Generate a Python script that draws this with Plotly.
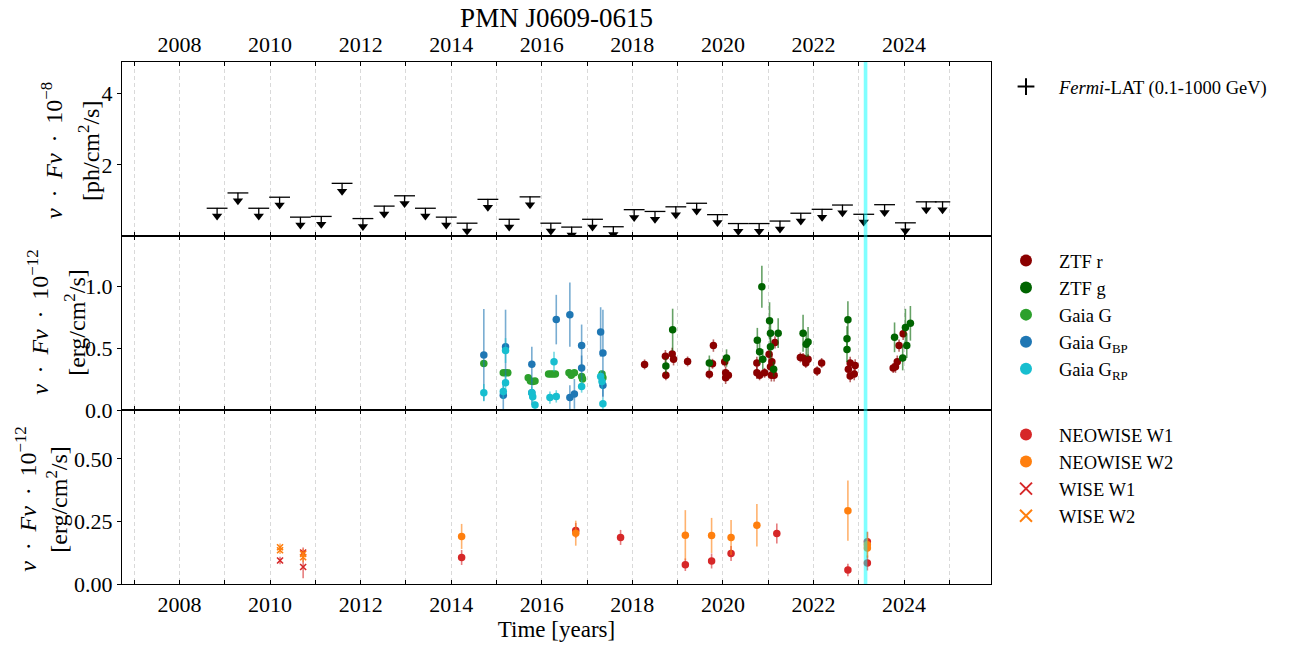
import plotly.graph_objects as go
from plotly.subplots import make_subplots

# Fermi-LAT upper limits (1e-8 ph/cm2/s)
fermi_t = [2008.83, 2009.29, 2009.75, 2010.21, 2010.67, 2011.13, 2011.59, 2012.05, 2012.52, 2012.97,
           2013.43, 2013.89, 2014.35, 2014.81, 2015.28, 2015.74, 2016.20, 2016.66, 2017.12, 2017.58,
           2018.04, 2018.50, 2018.96, 2019.42, 2019.88, 2020.34, 2020.80, 2021.26, 2021.72, 2022.19,
           2022.64, 2023.11, 2023.57, 2024.03, 2024.49, 2024.85]
fermi_ul = [0.78, 1.21, 0.78, 1.09, 0.53, 0.55, 1.48, 0.49, 0.84, 1.13,
            0.78, 0.53, 0.36, 1.03, 0.47, 1.10, 0.36, 0.25, 0.47, 0.26,
            0.74, 0.69, 0.82, 0.92, 0.60, 0.35, 0.35, 0.42, 0.64, 0.75,
            0.87, 0.61, 0.88, 0.37, 0.96, 0.96]
fermi_halfbin = [0.23] * 35 + [0.17]

# optical (1e-12 erg/cm2/s)
ztf_r_t = [2018.27, 2018.73, 2018.74, 2018.88, 2018.91, 2019.22, 2019.70, 2019.77, 2019.79, 2020.04,
           2020.06, 2020.06, 2020.12, 2020.75, 2020.75, 2020.81, 2020.92, 2021.02, 2021.05, 2021.08,
           2021.07, 2021.13, 2021.15, 2021.71, 2021.77, 2021.83, 2021.88, 2022.08, 2022.18, 2022.77,
           2022.81, 2022.81, 2022.90, 2022.92, 2023.76, 2023.81, 2023.85, 2023.89, 2023.98]
ztf_r = [0.368, 0.434, 0.28, 0.453, 0.41, 0.392, 0.288, 0.373, 0.52, 0.39,
         0.30, 0.26, 0.28, 0.38, 0.30, 0.28, 0.30, 0.45, 0.35, 0.39,
         0.28, 0.28, 0.546, 0.424, 0.42, 0.38, 0.41, 0.314, 0.38, 0.33,
         0.38, 0.274, 0.29, 0.36, 0.339, 0.35, 0.39, 0.52, 0.616]
ztf_r_err = [0.04, 0.05, 0.04, 0.05, 0.05, 0.04, 0.04, 0.04, 0.05, 0.04,
             0.05, 0.05, 0.04, 0.05, 0.05, 0.04, 0.04, 0.05, 0.05, 0.05,
             0.05, 0.05, 0.05, 0.04, 0.04, 0.04, 0.04, 0.04, 0.04, 0.04,
             0.05, 0.05, 0.05, 0.05, 0.04, 0.05, 0.05, 0.05, 0.05]

ztf_g_t = [2018.74, 2018.89, 2019.70, 2020.08, 2020.76, 2020.81, 2020.86, 2020.88, 2021.03, 2021.05,
           2021.05, 2021.12, 2021.22, 2021.77, 2021.84, 2021.88, 2022.74, 2022.74, 2022.76, 2023.79,
           2023.97, 2024.03, 2024.06, 2024.14]
ztf_g = [0.355, 0.648, 0.38, 0.42, 0.563, 0.47, 0.995, 0.41, 0.72, 0.62,
         0.51, 0.33, 0.62, 0.62, 0.53, 0.55, 0.576, 0.488, 0.728, 0.587,
         0.42, 0.667, 0.52, 0.70]
ztf_g_err = [0.06, 0.17, 0.06, 0.07, 0.10, 0.10, 0.17, 0.08, 0.15, 0.10,
             0.10, 0.06, 0.12, 0.15, 0.10, 0.12, 0.10, 0.10, 0.15, 0.12,
             0.10, 0.15, 0.10, 0.14]

gaia_g_t = [2014.72, 2015.15, 2015.20, 2015.25, 2015.70, 2015.75, 2015.80, 2015.85, 2016.15, 2016.20,
            2016.25, 2016.30, 2016.60, 2016.65, 2016.72, 2016.88, 2016.90, 2017.33, 2017.35]
gaia_g = [0.376, 0.30, 0.30, 0.30, 0.26, 0.235, 0.23, 0.235, 0.29, 0.29,
          0.29, 0.29, 0.30, 0.28, 0.30, 0.27, 0.25, 0.29, 0.26]
gaia_g_err = [0.02] * 19

gaia_bp_t = [2014.72, 2015.15, 2015.20, 2015.78, 2015.78, 2016.32, 2016.62, 2016.62, 2016.72, 2016.88,
             2016.88, 2017.30, 2017.35, 2017.35]
gaia_bp = [0.445, 0.12, 0.51, 0.37, 0.14, 0.73, 0.77, 0.10, 0.13, 0.52,
           0.34, 0.63, 0.46, 0.20]
gaia_bp_err = [0.37, 0.12, 0.30, 0.14, 0.10, 0.20, 0.26, 0.10, 0.12, 0.17,
               0.10, 0.20, 0.35, 0.10]

gaia_rp_t = [2014.72, 2015.15, 2015.20, 2015.20, 2015.78, 2015.80, 2015.85, 2016.18, 2016.27, 2016.32,
             2016.88, 2017.30, 2017.33, 2017.35]
gaia_rp = [0.14, 0.15, 0.48, 0.22, 0.14, 0.106, 0.04, 0.10, 0.39, 0.11,
           0.19, 0.27, 0.23, 0.05]
gaia_rp_err = [0.07, 0.06, 0.10, 0.06, 0.05, 0.05, 0.03, 0.05, 0.08, 0.05,
               0.05, 0.05, 0.06, 0.05]

# infrared (1e-12 erg/cm2/s)
neo_w1_t = [2014.23, 2016.75, 2017.74, 2019.17, 2019.75, 2020.18, 2021.19, 2022.76, 2023.19, 2023.19]
neo_w1 = [0.106, 0.214, 0.186, 0.077, 0.092, 0.122, 0.202, 0.056, 0.169, 0.084]
neo_w1_err = [0.03, 0.03, 0.03, 0.025, 0.03, 0.03, 0.04, 0.025, 0.04, 0.03]

neo_w2_t = [2014.23, 2016.75, 2019.17, 2019.75, 2020.18, 2020.75, 2022.76, 2023.19, 2023.19]
neo_w2 = [0.19, 0.203, 0.195, 0.194, 0.186, 0.235, 0.293, 0.157, 0.144]
neo_w2_err = [0.05, 0.05, 0.10, 0.07, 0.07, 0.085, 0.12, 0.05, 0.04]

wise_w1_t = [2010.22, 2010.73, 2010.73]
wise_w1 = [0.094, 0.126, 0.068]
wise_w1_err = [0.015, 0.02, 0.045]

wise_w2_t = [2010.22, 2010.22, 2010.73, 2010.73]
wise_w2 = [0.147, 0.135, 0.12, 0.107]
wise_w2_err = [0.015, 0.015, 0.02, 0.02]

flare_t = 2023.15

years = list(range(2007, 2026))
year_text = [str(y) if y % 2 == 0 else "" for y in years]

FONT = "Liberation Serif"
OFF = 8  # page body margin
W, H = 1296 - OFF, 654 - OFF

fig = make_subplots(rows=3, cols=1, shared_xaxes=True, vertical_spacing=0)


def err_series(t, v, e, color, name, row, legend, symbol="circle", alpha=0.6):
    r, g, b = color
    mk = dict(size=7.5, color=f"rgb({r},{g},{b})", symbol=symbol)
    if symbol.startswith("x"):
        mk = dict(size=6, symbol="x-thin", line=dict(width=1.6, color=f"rgb({r},{g},{b})"))
    fig.add_trace(go.Scatter(
        x=t, y=v, mode="markers", name=name, legend=legend, marker=mk,
        error_y=dict(type="data", array=e, color=f"rgba({r},{g},{b},{alpha})", thickness=1.6, width=0),
    ), row=row, col=1)


# Fermi: caps at the upper limit, arrow pointing down
arrow_drop = 0.22
fig.add_trace(go.Scatter(
    x=fermi_t, y=fermi_ul, mode="markers", showlegend=False,
    marker=dict(size=1, color="black"),
    error_x=dict(type="data", array=fermi_halfbin, color="black", thickness=1.3, width=0),
), row=1, col=1)
fig.add_trace(go.Scatter(
    x=fermi_t, y=[u - arrow_drop for u in fermi_ul], mode="markers", showlegend=False,
    marker=dict(size=9, symbol="triangle-down", color="black"),
    error_y=dict(type="data", symmetric=False, array=[arrow_drop] * len(fermi_ul),
                 arrayminus=[0] * len(fermi_ul), color="black", thickness=1.3, width=0),
), row=1, col=1)
fig.add_trace(go.Scatter(
    x=[None], y=[None], mode="markers", name="<i>Fermi</i>-LAT (0.1-1000 GeV)", legend="legend",
    marker=dict(size=14, symbol="cross-thin", line=dict(width=1.6, color="black")),
), row=1, col=1)

err_series(ztf_r_t, ztf_r, ztf_r_err, (139, 0, 0), "ZTF r", 2, "legend2")
err_series(ztf_g_t, ztf_g, ztf_g_err, (0, 100, 0), "ZTF g", 2, "legend2")
err_series(gaia_g_t, gaia_g, gaia_g_err, (44, 160, 44), "Gaia G", 2, "legend2")
err_series(gaia_bp_t, gaia_bp, gaia_bp_err, (31, 119, 180), "Gaia G<sub>BP</sub>", 2, "legend2")
err_series(gaia_rp_t, gaia_rp, gaia_rp_err, (23, 190, 207), "Gaia G<sub>RP</sub>", 2, "legend2")

err_series(neo_w1_t, neo_w1, neo_w1_err, (214, 39, 40), "NEOWISE W1", 3, "legend3")
err_series(neo_w2_t, neo_w2, neo_w2_err, (255, 127, 14), "NEOWISE W2", 3, "legend3")
err_series(wise_w1_t, wise_w1, wise_w1_err, (214, 39, 40), "WISE W1", 3, "legend3", symbol="x")
err_series(wise_w2_t, wise_w2, wise_w2_err, (255, 127, 14), "WISE W2", 3, "legend3", symbol="x")

# flare marker across all panels
fig.add_shape(type="rect", xref="x", yref="paper", x0=flare_t - 0.04, x1=flare_t + 0.04,
              y0=0, y1=1, fillcolor="rgba(0,255,255,0.5)", line_width=0, layer="above")

fig.update_xaxes(range=[2006.73, 2025.92], tickmode="array", tickvals=years, ticktext=year_text,
                 showgrid=True, gridcolor="#d9d9d9", griddash="4px,3px", gridwidth=1,
                 showline=True, linecolor="black", linewidth=1.3, mirror="ticks",
                 ticks="inside", ticklen=4, tickcolor="black", zeroline=False,
                 tickfont=dict(family=FONT, size=22, color="black"))
fig.update_xaxes(showticklabels=True, side="top", row=1, col=1)
fig.update_xaxes(title=dict(text="Time [years]", font=dict(family=FONT, size=23, color="black"), standoff=4),
                 row=3, col=1)

yaxis_common = dict(showgrid=False, zeroline=False, showline=True, linecolor="black", linewidth=1.3,
                    mirror=True, ticks="outside", ticklen=4, tickcolor="black",
                    tickfont=dict(family=FONT, size=22, color="black"))
fig.update_yaxes(range=[0, 4.89], tickvals=[2, 4], row=1, col=1, **yaxis_common)
fig.update_yaxes(range=[0, 1.405], tickvals=[0, 0.5, 1.0], ticktext=["0.0", "0.5", "1.0"],
                 row=2, col=1, **yaxis_common)
fig.update_yaxes(range=[0, 0.695], tickvals=[0, 0.25, 0.5], ticktext=["0.00", "0.25", "0.50"],
                 row=3, col=1, **yaxis_common)

# y-axis labels (two lines each), positions in screen pixels
PL, PR, PB, PH = 122, 991, 584.3, 522.3
PW = PR - PL
SP = " \u2009"
line1_top = f"<i>ν</i>{SP}·{SP}<i>Fν</i>{SP}·{SP}10<sup>−8</sup>"
line1_low = f"<i>ν</i>{SP}·{SP}<i>Fν</i>{SP}·{SP}10<sup>−12</sup>"
ylabels = [
    (151, 52, 89, line1_top, "[ph/cm<sup>2</sup>/s]"),
    (323, 38, 75, line1_low, "[erg/cm<sup>2</sup>/s]"),
    (500, 26, 57, line1_low, "[erg/cm<sup>2</sup>/s]"),
]
for yc, x1, x2, l1, l2 in ylabels:
    for xc, txt in ((x1, l1), (x2, l2)):
        fig.add_annotation(x=(xc - PL) / PW, y=(PB - yc) / PH, xref="paper", yref="paper",
                           text=txt, textangle=-90, showarrow=False, xanchor="center", yanchor="middle",
                           font=dict(family=FONT, size=24, color="black"))

legend_common = dict(xref="container", yref="container", xanchor="left", yanchor="top",
                     bgcolor="rgba(0,0,0,0)", font=dict(family=FONT, size=18.5, color="black"),
                     itemsizing="constant", itemwidth=56, tracegroupgap=0)

fig.update_layout(
    width=W, height=H,
    margin=dict(l=PL - OFF, r=W - (PL - OFF) - PW, t=62 - OFF, b=round(H - (62 - OFF) - PH),
                autoexpand=False),
    paper_bgcolor="white", plot_bgcolor="white",
    title=dict(text="PMN J0609-0615", x=(556.5 - OFF) / W, xanchor="center", y=1 - (18 - OFF) / H,
               yanchor="middle", font=dict(family=FONT, size=27, color="black")),
    legend=dict(x=(993 - OFF) / W, y=1 - (68 - OFF) / H, **legend_common),
    legend2=dict(x=(993 - OFF) / W, y=1 - (242 - OFF) / H, **legend_common),
    legend3=dict(x=(993 - OFF) / W, y=1 - (416 - OFF) / H, **legend_common),
    font=dict(family=FONT),
)

fig.write_html("out.html")
